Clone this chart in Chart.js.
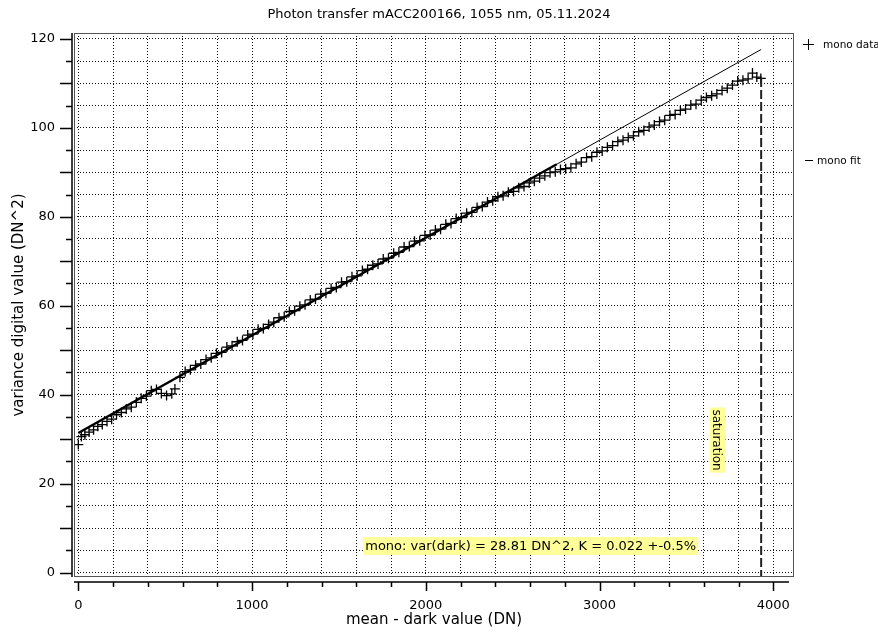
<!DOCTYPE html>
<html>
<head>
<meta charset="utf-8">
<title>Photon transfer mACC200166</title>
<script src="https://cdn.jsdelivr.net/npm/chart.js@4.4.1/dist/chart.umd.min.js"></script>
<style>
	html, body { margin: 0; padding: 0; background: #fff; }
	#wrap { width: 878px; height: 637px; }
</style>
</head>
<body>
<div id="wrap"><canvas id="ptc" width="878" height="637"></canvas></div>
<script>
// measured points: mean - dark (DN) and variance (DN^2)
var meanX = [0, 18, 38, 62, 88, 112, 138, 165, 192, 220, 248, 276, 305, 334, 362, 392, 420, 450, 478, 508, 538, 556, 585,
	615, 645, 675, 705, 735, 765, 795, 825, 855, 885, 915, 945, 975, 1005, 1035, 1065, 1095, 1125, 1155, 1185,
	1215, 1245, 1275, 1305, 1335, 1365, 1395, 1425, 1455, 1485, 1515, 1545, 1575, 1605, 1635, 1665, 1695, 1725,
	1755, 1785, 1815, 1845, 1875, 1905, 1935, 1965, 1995, 2025, 2055, 2085, 2115, 2145, 2175, 2205, 2235, 2265,
	2295, 2325, 2355, 2385, 2415, 2445, 2475, 2505, 2535, 2565, 2595, 2625, 2655, 2685, 2715, 2745, 2775, 2805,
	2835, 2865, 2895, 2925, 2955, 2985, 3015, 3045, 3075, 3105, 3135, 3165, 3195, 3225, 3255, 3285, 3315, 3345,
	3375, 3405, 3435, 3465, 3495, 3525, 3555, 3585, 3615, 3645, 3675, 3705, 3735, 3765, 3795, 3825, 3855, 3880,
	3905, 3928];
var varY = [28.8, 30.6, 31.0, 31.6, 32.1, 32.9, 33.3, 34.0, 34.5, 35.5, 36.0, 36.8, 37.2, 38.3, 39.2, 39.7, 40.9, 41.2, 40.3, 39.8, 40.2, 41.3, 43.9,
	45.2, 45.6, 46.6, 46.9, 47.9, 48.3, 49.3, 49.5, 50.7, 51.0, 51.9, 52.2, 53.4, 53.6, 54.7, 54.9, 55.8, 56.3, 57.3, 57.5,
	58.7, 58.9, 59.9, 60.2, 61.3, 61.5, 62.6, 62.8, 63.9, 64.1, 65.3, 65.4, 66.5, 66.7, 67.9, 68.2, 69.1, 69.4,
	70.5, 70.7, 71.8, 72.0, 73.2, 73.3, 74.5, 74.6, 75.8, 75.9, 77.0, 77.2, 78.3, 78.5, 79.6, 79.8, 80.8, 81.0,
	82.1, 82.3, 83.3, 83.6, 84.5, 84.7, 85.5, 85.7, 86.5, 86.8, 87.6, 88.0, 88.7, 89.2, 89.9, 90.1, 90.6, 90.8,
	91.0, 91.9, 92.3, 93.3, 93.5, 94.5, 94.8, 95.6, 96.0, 96.9, 97.2, 97.8, 98.2, 99.1, 99.4, 100.2, 100.6, 101.4,
	101.7, 102.8, 103.0, 103.9, 104.2, 105.1, 105.3, 106.2, 106.8, 107.2, 107.6, 108.4, 108.9, 109.6, 110.5, 110.7, 111.0, 112.3,
	111.4, 111.1];

// linear fit: fitted range (thick) and extrapolation (thin)
var fitX = [0, 2753];
var fitY = [31.4, 91.8];
var extX = [0, 3930];
var extY = [31.4, 117.6];

// saturation marker
var satX = [3930, 3930];
var satY = [111.2, -1];

// labelled ticks
var xLabels = [0, 1000, 2000, 3000, 4000];
var yLabels = [0, 20, 40, 60, 80, 100, 120];

var titleText = "Photon transfer mACC200166, 1055 nm, 05.11.2024";
var xTitle = "mean - dark value (DN)";
var yTitle = "variance digital value (DN^2)";
var fitNote = "mono: var(dark) = 28.81 DN^2, K = 0.022 +-0.5%";
var satNote = "saturation";
var legendNames = ["mono data", "mono fit"];

var FONT = "'DejaVu Sans', Verdana, sans-serif";

function pairs(xs, ys) {
	var out = [];
	for (var i = 0; i < xs.length; i++) {
		out.push({ x : xs[i], y : ys[i] });
	}
	return out;
}

// frame, offset axes with long/short ticks, title, legend and notes
var decor = {
	id : "decor",
	afterDatasetsDraw : function(chart) {
		var c = chart.ctx;
		var xs = chart.scales.x, ys = chart.scales.y;
		c.save();
		c.font = "13px " + FONT;
		c.textBaseline = "middle";

		// fit note box
		var nx = xs.getPixelForValue(1640);
		var ny = ys.getPixelForValue(6);
		var w = c.measureText(fitNote).width;
		c.fillStyle = "#ffff99";
		c.fillRect(nx, ny - 9, w + 4, 18);
		c.fillStyle = "#000";
		c.textAlign = "left";
		c.fillText(fitNote, nx + 2, ny + 1);

		// saturation note, rotated
		var sx = xs.getPixelForValue(3679);
		var sy = ys.getPixelForValue(29.8);
		c.font = "12px " + FONT;
		var sw = c.measureText(satNote).width;
		c.translate(sx, sy);
		c.rotate(Math.PI / 2);
		c.fillStyle = "#ffff99";
		c.fillRect(-sw / 2 - 2, -8, sw + 4, 16);
		c.fillStyle = "#000";
		c.textAlign = "center";
		c.fillText(satNote, 0, 1);
		c.restore();
	},
	afterDraw : function(chart) {
		var c = chart.ctx, a = chart.chartArea;
		var xs = chart.scales.x, ys = chart.scales.y;
		var v, p;
		c.save();

		// title, centred on the whole picture
		c.fillStyle = "#000";
		c.font = "13px " + FONT;
		c.textAlign = "center";
		c.textBaseline = "middle";
		c.fillText(titleText, chart.width / 2, 15);

		// plot frame
		c.strokeStyle = "#555";
		c.lineWidth = 1;
		c.strokeRect(a.left + 0.5, a.top + 0.5, a.right - a.left - 1, a.bottom - a.top - 1);

		// y axis
		c.strokeStyle = "#000";
		c.lineWidth = 1.5;
		c.beginPath();
		c.moveTo(a.left - 2, a.top);
		c.lineTo(a.left - 2, a.bottom);
		for (v = 0; v <= 120; v += 5) {
			p = Math.round(ys.getPixelForValue(v)) + 0.5;
			c.moveTo(a.left - 2, p);
			c.lineTo(v % 10 === 0 ? a.left - 14 : a.left - 8, p);
		}
		// x axis
		c.moveTo(a.left, a.bottom + 5);
		c.lineTo(a.right - 5, a.bottom + 5);
		for (v = 0; v <= 4000; v += 200) {
			p = Math.round(xs.getPixelForValue(v)) + 0.5;
			c.moveTo(p, a.bottom + 5);
			c.lineTo(p, v % 1000 === 0 ? a.bottom + 14 : a.bottom + 10);
		}
		c.stroke();

		// legend
		c.lineWidth = 1;
		c.beginPath();
		c.moveTo(803, 44.5); c.lineTo(814, 44.5);
		c.moveTo(808.5, 39); c.lineTo(808.5, 50);
		c.moveTo(805, 160.5); c.lineTo(813, 160.5);
		c.stroke();
		c.font = "10.5px " + FONT;
		c.textAlign = "left";
		c.fillText(legendNames[0], 823, 45);
		c.fillText(legendNames[1], 817, 161);
		c.restore();
	}
};

var ctx = document.getElementById("ptc");

var data = {
	datasets : [
		{
			label : "mono fit",
			type : "line",
			data : pairs(fitX, fitY),
			borderColor : "#000",
			borderWidth : 2.5,
			pointRadius : 0,
			fill : false
		},
		{
			label : "mono fit ext",
			type : "line",
			data : pairs(extX, extY),
			borderColor : "#000",
			borderWidth : 1,
			pointRadius : 0,
			fill : false
		},
		{
			label : "saturation",
			type : "line",
			data : pairs(satX, satY),
			borderColor : "#222",
			borderWidth : 2,
			borderDash : [9, 3],
			pointRadius : 0,
			fill : false
		},
		{
			label : "mono data",
			data : pairs(meanX, varY),
			pointStyle : "cross",
			pointRadius : 5,
			borderColor : "#000",
			backgroundColor : "#000",
			borderWidth : 1.3,
			showLine : false
		}
	]
};

var options = {
	responsive : false,
	animation : false,
	layout : { padding : { left : 0, right : 84, top : 33, bottom : 0 } },
	plugins : {
		legend : { display : false },
		tooltip : { enabled : false },
		title : { display : false }
	},
	scales : {
		x : {
			type : "linear",
			min : -24.7,
			max : 4119,
			afterFit : function(s) { s.height = 60; },
			border : { display : false, dash : [1, 2] },
			grid : { color : "#111", lineWidth : 1, drawTicks : false },
			ticks : {
				stepSize : 200,
				includeBounds : false,
				autoSkip : false,
				maxRotation : 0,
				padding : 21,
				color : "#000",
				font : { family : FONT, size : 13 },
				callback : function(v) { return xLabels.indexOf(v) >= 0 ? String(v) : ""; }
			},
			title : {
				display : true,
				text : xTitle,
				color : "#000",
				font : { family : FONT, size : 15 },
				padding : { top : 0, bottom : 8 }
			}
		},
		y : {
			type : "linear",
			min : -0.97,
			max : 121.3,
			afterFit : function(s) { s.width = 74; },
			border : { display : false, dash : [1, 2] },
			grid : { color : "#111", lineWidth : 1, drawTicks : false },
			ticks : {
				stepSize : 5,
				includeBounds : false,
				autoSkip : false,
				padding : 19,
				color : "#000",
				font : { family : FONT, size : 13 },
				callback : function(v) { return yLabels.indexOf(v) >= 0 ? String(v) : ""; }
			},
			title : {
				display : true,
				text : yTitle,
				color : "#000",
				font : { family : FONT, size : 15 },
				padding : { top : 10, bottom : 0 }
			}
		}
	}
};

var chart = new Chart(ctx, {
	type : "scatter",
	data : data,
	options : options,
	plugins : [decor]
});
</script>
</body>
</html>
